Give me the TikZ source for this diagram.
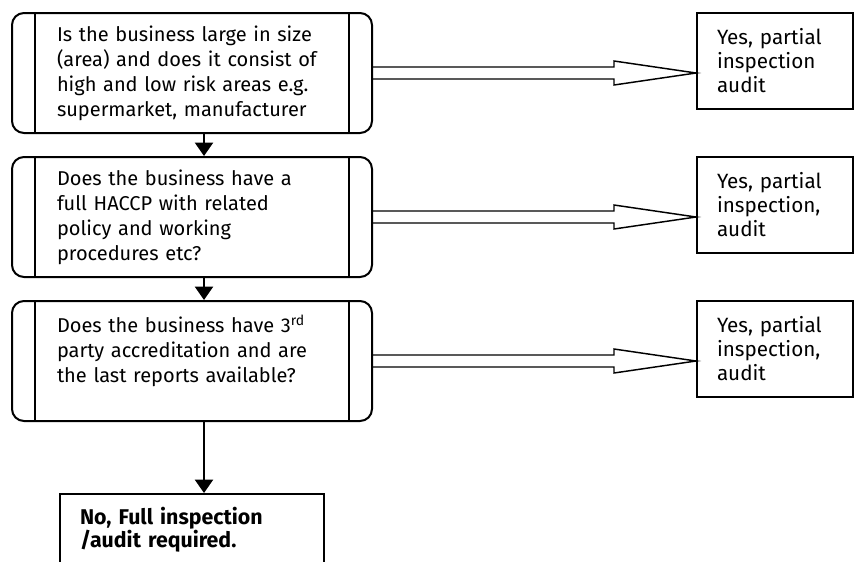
\documentclass[tikz,border=0pt]{standalone}
\usepackage{fontspec}
\setmainfont{Fira Sans}
\usetikzlibrary{calc,arrows.meta}
\tikzset{
	decision/.style={
			draw, line width=1.5pt, rounded corners=9pt,
			minimum width=270pt, minimum height=90pt, inner sep=0pt,
			text width=202.5pt, align=left,
			font=\fontsize{15}{18.75}\selectfont
		},
	outcome/.style={
			draw, line width=1.5pt,
			minimum width=117pt, minimum height=72pt, inner sep=0pt,
			text width=87pt, align=left,
			font=\fontsize{15.5}{18}\selectfont
		},
	verdict/.style={
			draw, line width=1.5pt, anchor=north,
			minimum width=198pt, minimum height=54pt, inner sep=0pt,
			text width=168pt, align=left,
			font=\bfseries\fontsize{16}{17.5}\selectfont
		},
	flow/.style={line width=1.5pt, -{Triangle[width=13.5pt,length=10pt]}},
	hollow/.style={line width=1.1pt, line join=miter}
}
% the two inner bars of a decision box
\newcommand{\sidebars}[1]{
	\draw[line width=1.5pt] ($(#1.north west)+(24,0)$) -- ($(#1.south west)+(24,0)$);
	\draw[line width=1.5pt] ($(#1.north east)+(-24,0)$) -- ($(#1.south east)+(-24,0)$);
}
% open double arrow from a decision to its outcome
\newcommand{\yesarrow}[2]{
	\coordinate (tip) at (#2.west |- #1.east);
	\draw[hollow] ($(#1.east)+(0,-6)$) -- ($(tip)+(-82,-6)$) -- ($(tip)+(-82,-12)$)
	-- (tip) -- ($(tip)+(-82,12)$) -- ($(tip)+(-82,6)$) -- ($(#1.east)+(0,6)$);
}
\begin{document}
\begin{tikzpicture}[x=0.75pt, y=-0.75pt]

	\clip (0,0) rectangle (868,561);

	% Decisions
	\node[decision] (q1) at (192,73) {Is the business large in size\\(area) and does it consist of\\high and low risk areas e.g.\\supermarket, manufacturer};
	\node[decision] (q2) at (192,217) {Does the business have a\\full HACCP with related\\policy and working\\procedures etc?};
	\node[decision] (q3) at (192,361) {Does the business have 3\textsuperscript{rd}\\party accreditation and are\\the last reports available?\\~};
	\sidebars{q1}
	\sidebars{q2}
	\sidebars{q3}

	% Outcomes
	\node[outcome] (a1) at (775,61) {Yes, partial\\inspection\\audit};
	\node[outcome] (a2) at (775,205) {Yes, partial\\inspection,\\audit};
	\node[outcome] (a3) at (775,349) {Yes, partial\\inspection,\\audit};
	\node[verdict] (no) at (192,493) {No, Full inspection\\/audit required.};

	% Connectors
	\draw[flow] ([xshift=9pt]q1.south) -- ([xshift=9pt]q2.north);
	\draw[flow] ([xshift=9pt]q2.south) -- ([xshift=9pt]q3.north);
	\draw[flow] ([xshift=9pt]q3.south) -- ([xshift=9pt]no.north);
	\yesarrow{q1}{a1}
	\yesarrow{q2}{a2}
	\yesarrow{q3}{a3}

\end{tikzpicture}
\end{document}
